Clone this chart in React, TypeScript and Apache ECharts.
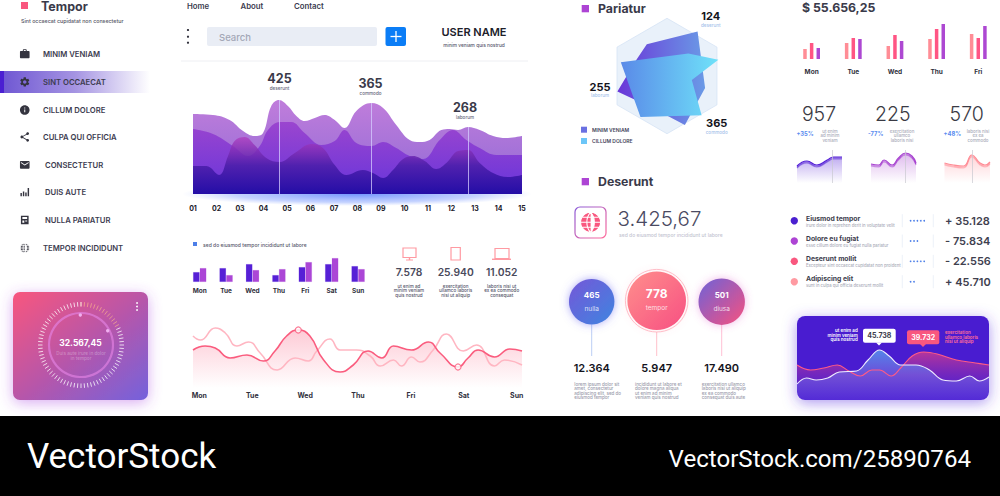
import React, { useEffect, useRef } from "react";
import * as echarts from "echarts";

const FONT = "Inter, 'Open Sans', sans-serif";
const DARK = "#3a3a4a";
const GREY = "#a9abb8";

// ---------- data ----------
const dayTicks = ["01","02","03","04","05","06","07","08","09","10","11","12","13","14","15"];
const areaTop = [[1,80],[1.85,79],[2.56,74],[3.13,63],[3.62,58],[3.98,61],[4.33,88],[4.66,94],[5.04,88],[5.4,78],[5.75,73],[6.18,76],[6.6,79],[7.03,74],[7.45,66],[7.95,83],[8.59,91],[9.09,86],[9.65,69],[10.22,54],[10.65,52],[11.07,54],[11.57,64],[11.92,65],[12.28,64],[12.7,67],[13.2,64],[13.77,58],[14.33,56],[15,58]];
const areaMid = [[1,65],[1.85,60],[2.7,48],[3.34,38],[3.84,48],[4.19,64],[4.69,72],[5.18,72],[5.75,61],[6.46,49],[7.03,53],[7.45,64],[7.95,51],[8.59,48],[9.09,52],[9.65,46],[10.22,38],[10.79,35],[11.5,54],[12.06,64],[12.63,54],[13.2,46],[13.91,39],[15,39]];
const areaLow = [[1,28],[1.57,28],[2.11,19],[2.49,38],[2.77,53],[3.2,57],[3.62,49],[4.12,36],[4.69,32],[5.33,41],[6.04,50],[6.53,46],[7.03,29],[7.52,19],[8.23,24],[8.66,21],[9.09,16],[9.51,24],[9.94,35],[10.36,38],[10.86,33],[11.35,25],[11.78,31],[12.28,43],[12.7,44],[13.2,31],[13.77,21],[14.4,17],[15,19]];
const areaPeaks = [[4.66,94],[8.59,91],[12.7,67]];

const weekDays = ["Mon","Tue","Wed","Thu","Fri","Sat","Sun"];
const barsDark = [10,14,18,7,15,18,16];
const barsLight = [14,7,12,13,20,24,13];

const waveMain = [[-0.12,38],[0.11,42],[0.3,40],[0.58,30],[0.9,33],[1.21,27],[1.43,37],[1.65,52],[1.87,58],[2.09,52],[2.35,28],[2.66,16],[2.91,23],[3.19,37],[3.45,30],[3.67,42],[4.01,38],[4.33,46],[4.55,35],[4.89,21],[5.08,30],[5.27,38],[5.58,31],[5.87,39],[6.1,37]];
const waveSoft = [[-0.12,52],[0.02,48],[0.3,60],[0.49,55],[0.71,42],[0.93,46],[1.15,35],[1.47,18],[1.81,30],[2.06,27],[2.22,37],[2.47,49],[2.66,38],[2.97,38],[3.23,32],[3.42,22],[3.67,28],[3.82,22],[4.01,31],[4.17,26],[4.42,38],[4.67,54],[4.99,37],[5.24,43],[5.58,22],[5.77,28],[6.1,23]];
const waveMarks = [[1.87,58],[4.89,21]];

const polyA = [[-0.35,0.55],[0.53,0.77],[0.66,-0.21],[0.31,-0.85],[-0.24,-0.56],[-0.86,-0.27],[-0.53,0.28]];
const polyB = [[-0.8,0.24],[0.37,0.39],[0.89,0.28],[0.43,-0.07],[0.6,-0.68],[-0.46,-0.71]];
const radarAxes = ["a","b","c","d","e","f"];

const fiveDays = ["Mon","Tue","Wed","Thu","Fri"];
const revA = [10,16,13,20,25];
const revB = [16,21,24,30,21];
const revC = [11,20,18,35,33];

const sparkBlue = [[0,17],[22,22],[44,18],[67,23],[81,26],[100,26]];
const sparkPurple = [[0,19],[17,18],[29,23],[47,18],[61,25],[77,30],[91,27],[100,20]];
const sparkPink = [[0,20],[20,18],[42,17],[60,28],[78,20],[89,18],[100,21]];

const cardWhite = [[0,16],[5,22],[10,20],[16,22],[22,28],[31,29],[37,40],[43,50],[48,44],[54,35],[62,35],[69,30],[76,20],[83,19],[90,24],[95,19],[100,23]];
const cardPink = [[0,35],[7,30],[14,32],[21,35],[27,29],[33,24],[39,30],[43,30],[49,24],[54,32],[60,44],[66,48],[73,46],[83,40],[93,37],[100,35]];

const navLabels = ["MINIM VENIAM","SINT OCCAECAT","CILLUM DOLORE","CULPA QUI OFFICIA","CONSECTETUR","DUIS AUTE","NULLA PARIATUR","TEMPOR INCIDIDUNT"];
const topLinks = ["Home","About","Contact"];
const deviceValues = ["7.578","25.940","11.052"];
const deviceNotes = [["ut enim ad","minim veniam","quis nostrud"],["exercitation","ullamco laboris","nisi ut aliquip"],["laboris nisi ut","ex ea commodo","consequat"]];
const peakLabels = [["425","deserunt"],["365","commodo"],["268","laborum"]];
const bubbleValues = [["465","nulla"],["778","tempor"],["501","diusa"]];
const bubbleTotals = ["12.364","5.947","17.490"];
const bubbleNotes = [
  ["lorem ipsum dolor sit","amet, consectetur","adipiscing elit, sed do","eiusmod tempor"],
  ["incididunt ut labore et","dolore magna aliqua","ut enim ad minim","veniam quis nostrud"],
  ["exercitation ullamco","laboris nisi ut aliquip","ex ea commodo","consequat duis aute"],
];
const kpiValues = ["957","225","570"];
const kpiDeltas = ["+35%","-77%","+48%"];
const kpiNotes = [["ut enim","ad minim","veniam"],["exercitation","ullamco","laboris nisi"],["laboris nisi","ex ea","commodo"]];
const listTitles = ["Eiusmod tempor","Dolore eu fugiat","Deserunt mollit","Adipiscing elit"];
const listNotes = ["irure dolor in reprehen derit in voluptate velit","esse cillum dolore eu fugiat nulla pariatur","Excepteur sint occaecat cupidatat non proident","sunt in culpa qui officia deserunt mollit"];
const listStars = [5,3,5,2];
const listValues = ["+ 35.128","- 75.834","- 22.556","+ 45.710"];

// ---------- icon shapes ----------
const ICONS: string[] = [
  "M20 6h-4V4c0-1.11-.89-2-2-2h-4c-1.11 0-2 .89-2 2v2H4c-1.11 0-1.99.89-1.99 2L2 19c0 1.11.89 2 2 2h16c1.11 0 2-.89 2-2V8c0-1.11-.89-2-2-2zm-6 0h-4V4h4v2z",
  "M19.14 12.94c.04-.3.06-.61.06-.94 0-.32-.02-.64-.07-.94l2.03-1.58c.18-.14.23-.41.12-.61l-1.92-3.32c-.12-.22-.37-.29-.59-.22l-2.39.96c-.5-.38-1.03-.7-1.62-.94l-.36-2.54c-.04-.24-.24-.41-.48-.41h-3.84c-.24 0-.43.17-.47.41l-.36 2.54c-.59.24-1.13.57-1.62.94l-2.39-.96c-.22-.08-.47 0-.59.22L2.74 8.87c-.12.21-.08.47.12.61l2.03 1.58c-.05.3-.09.63-.09.94s.02.64.07.94l-2.03 1.58c-.18.14-.23.41-.12.61l1.92 3.32c.12.22.37.29.59.22l2.39-.96c.5.38 1.03.7 1.62.94l.36 2.54c.05.24.24.41.48.41h3.84c.24 0 .44-.17.47-.41l.36-2.54c.59-.24 1.13-.56 1.62-.94l2.39.96c.22.08.47 0 .59-.22l1.92-3.32c.12-.22.07-.47-.12-.61l-2.01-1.58zM12 15.6c-1.98 0-3.6-1.62-3.6-3.6s1.62-3.6 3.6-3.6 3.6 1.62 3.6 3.6-1.62 3.6-3.6 3.6z",
  "M12 2C6.48 2 2 6.48 2 12s4.48 10 10 10 10-4.48 10-10S17.52 2 12 2zm1 15h-2v-6h2v6zm0-8h-2V7h2v2z",
  "M18 16.08c-.76 0-1.44.3-1.96.77L8.91 12.7c.05-.23.09-.46.09-.7s-.04-.47-.09-.7l7.05-4.11c.54.5 1.25.81 2.04.81 1.66 0 3-1.34 3-3s-1.34-3-3-3-3 1.34-3 3c0 .24.04.47.09.7L8.04 9.81C7.5 9.31 6.79 9 6 9c-1.66 0-3 1.34-3 3s1.34 3 3 3c.79 0 1.5-.31 2.04-.81l7.12 4.16c-.05.21-.08.43-.08.65 0 1.61 1.31 2.92 2.92 2.92s2.92-1.31 2.92-2.92-1.31-2.92-2.92-2.92z",
  "M20 4H4c-1.1 0-1.99.9-1.99 2L2 18c0 1.1.9 2 2 2h16c1.1 0 2-.9 2-2V6c0-1.1-.9-2-2-2zm0 4l-8 5-8-5V6l8 5 8-5v2z",
  "M3 14h3v7H3zM8 11h3v10H8zM13 13h3v8h-3zM18 4h3v17h-3z",
  "M4 3h16v18H4zM7 6v4h10V6zM7 13v5h4v-5zM13 13v2h4v-2z",
];
ICONS.forEach((d, i) => echarts.graphic.registerShape("navIcon" + i, echarts.graphic.extendPath(d as any, {})));
echarts.graphic.registerShape("globeIcon", echarts.graphic.extendPath("M12 2a10 10 0 1 0 0.01 0zM2 12h20M12 2c-5 5-5 15 0 20M12 2c5 5 5 15 0 20M4 7h16M4 17h16" as any, {}));
echarts.graphic.registerShape("cornerL", echarts.graphic.extendPath("M0 0A8 8 0 0 0 8 8L0 8Z" as any, {}));
echarts.graphic.registerShape("cornerR", echarts.graphic.extendPath("M8 0A8 8 0 0 1 0 8L8 8Z" as any, {}));

// ---------- helpers ----------
const LG = (x0: number, y0: number, x1: number, y1: number, stops: string[]) =>
  new echarts.graphic.LinearGradient(x0, y0, x1, y1, stops.map((color, i) => ({ offset: i / (stops.length - 1), color })));

function txt(x: number, y: number, text: string, fontSize: number, fill: string, fontWeight: any = 400, align = "left", extra: any = {}) {
  return { type: "text", x, y, z: 100, silent: true, style: { text, fontSize, fill, fontWeight, align, verticalAlign: "middle", fontFamily: FONT, ...extra } };
}
function box(x: number, y: number, width: number, height: number, fill: any, r = 0, z = 0, extra: any = {}) {
  return { type: "rect", z, silent: true, shape: { x, y, width, height, r }, style: { fill, ...extra } };
}
function dot(cx: number, cy: number, r: number, fill: any, z = 100, extra: any = {}) {
  return { type: "circle", z, silent: true, shape: { cx, cy, r }, style: { fill, ...extra } };
}
function seg(x1: number, y1: number, x2: number, y2: number, stroke: string, lineWidth = 1, z = 1) {
  return { type: "line", z, silent: true, shape: { x1, y1, x2, y2 }, style: { stroke, lineWidth } };
}

function buildGraphics() {
  const g: any[] = [];
  // footer
  g.push(box(0, 416, 1000, 80, "#000"));
  g.push(txt(27, 456, "VectorStock", 35, "#fff", 400, "left", { fontFamily: "Roboto, sans-serif" }));
  g.push(txt(971, 459, "VectorStock.com/25890764", 24.1, "#fff", 400, "right", { fontFamily: "Roboto, sans-serif" }));

  // sidebar
  g.push(box(21, 2, 7, 7, "#f9577f"));
  g.push(txt(41, 6.5, "Tempor", 12.5, DARK, 700));
  g.push(txt(21, 21, "Sint occaecat cupidatat non consectetur", 5.3, "#555566", 500));
  g.push(box(0, 71, 150, 22, LG(0, 0, 1, 0, ["#6d55d2", "#a594e2", "#ffffff"])));
  g.push(box(0, 71, 4, 22, "#4b1fd2"));
  const navY = [54, 82, 110, 137, 165, 192, 220, 248];
  const navX = [43, 43, 43, 43, 45, 45, 45, 43];
  navLabels.forEach((t, i) => {
    g.push(txt(navX[i], navY[i], t, 7.7, "#3c3c50", 600));
    if (i < ICONS.length) {
      g.push({ type: "navIcon" + i, x: 19, y: navY[i] - 5.8, scaleX: 0.48, scaleY: 0.48, z: 100, silent: true, style: { fill: "#34343f" } });
    } else {
      g.push({ type: "globeIcon", x: 19.3, y: navY[i] - 5.5, scaleX: 0.46, scaleY: 0.46, z: 100, silent: true, style: { fill: "#34343f", stroke: "#fff", lineWidth: 2 } });
    }
  });

  // gauge card
  g.push(box(13, 292, 135, 108, LG(0, 0, 1, 1, ["#f8567e", "#b956a8", "#7462dc"]), 7, 0, { shadowBlur: 14, shadowColor: "rgba(170,70,225,0.45)", shadowOffsetY: 3 }));
  g.push({ type: "circle", z: 1, silent: true, shape: { cx: 81, cy: 345, r: 32 }, style: { fill: "none", stroke: "rgba(228,130,228,0.65)", lineWidth: 2.2 } });
  g.push(dot(80.3, 315, 1.7, "#f0b0f0"));
  g.push(dot(107.7, 330.7, 1.7, "#f0b0f0"));
  [303, 306.5, 310].forEach((y) => g.push(dot(137, y, 0.9, "#fff")));
  g.push(txt(80.5, 343, "32.567,45", 8.5, "#fff", 700, "center"));
  g.push(txt(81, 353, "Duis aute irure in dolor", 4.6, "rgba(255,255,255,0.3)", 500, "center"));
  g.push(txt(81, 358, "in tempor", 4.6, "rgba(255,255,255,0.3)", 500, "center"));

  // header row
  [187, 240.5, 294].forEach((x, i) => g.push(txt(x, 6, topLinks[i], 7.8, "#3c3c50", 600)));
  [30, 36.7, 42.7].forEach((y) => g.push(dot(188, y, 1.1, "#2c2c38")));
  g.push(box(207, 27, 170, 19, "#e9edf5", 2));
  g.push(txt(219, 37, "Search", 9.5, "#a3a7b6", 500));
  g.push(box(385.5, 27, 20.5, 19, "#0b7df6", 2));
  g.push(seg(396, 31, 396, 42, "#fff", 1.3, 3));
  g.push(seg(390.5, 36.5, 401.5, 36.5, "#fff", 1.3, 3));
  g.push(txt(474, 32, "USER NAME", 11, "#20202a", 600, "center"));
  g.push(txt(474, 45, "minim veniam quis nostrud", 4.8, "#55556a", 500, "center"));
  g.push(seg(181, 61, 528, 61, "#eeeff3"));

  // main chart glow + callouts
  g.push({ type: "ellipse", z: 0, silent: true, shape: { cx: 357, cy: 194, rx: 175, ry: 12 }, style: { fill: new echarts.graphic.RadialGradient(0.5, 0.5, 0.5, [{ offset: 0, color: "rgba(70,115,255,0.75)" }, { offset: 0.7, color: "rgba(90,130,255,0.35)" }, { offset: 1, color: "rgba(120,150,255,0)" }]) } });
  [[279.5, 78.5], [370.5, 83.5], [465, 107.5]].forEach(([x, y], i) => {
    g.push(txt(x, y, peakLabels[i][0], 12.5, DARK, 700, "center"));
    g.push(txt(x, y + 9.5, peakLabels[i][1], 4.6, "#66667a", 500, "center"));
  });

  // small bars legend
  g.push(box(193, 242, 4, 4, "#4d7fe8"));
  g.push(txt(203, 244.5, "sed do eiusmod tempor incididunt ut labore", 5, "#55556a", 500));

  // devices
  const pink = "#ff9aa2";
  const outline = (x: number, y: number, w: number, h: number) => ({ type: "rect", z: 2, silent: true, shape: { x, y, width: w, height: h }, style: { fill: "none", stroke: pink, lineWidth: 1.2 } });
  g.push(outline(403, 248, 13, 9.5), seg(409.5, 257.5, 409.5, 260, pink, 1.4, 2), seg(406, 260, 413, 260, pink, 1, 2));
  g.push(outline(451, 247.5, 9.3, 12.5));
  g.push(outline(495, 248.5, 14, 10), seg(492, 259.3, 511, 259.3, pink, 1.4, 2));
  [409, 455.7, 501.7].forEach((x, i) => {
    g.push(txt(x, 271.7, deviceValues[i], 10.3, "#4a4a5c", 600, "center"));
    deviceNotes[i].forEach((s, k) => g.push(txt(x, 286 + k * 4.5, s, 4.6, "#55556a", 500, "center")));
  });

  // radar heading + labels
  g.push(box(581.7, 5, 7.3, 7.3, "#ad44d4"));
  g.push(txt(598, 8, "Pariatur", 12.3, DARK, 700));
  ([[710.7, 16, "124", "deserunt"], [600, 86.7, "255", "laborum"], [716.7, 123, "365", "commodo"]] as any[]).forEach(([x, y, a, b]) => {
    g.push(txt(x, y, a, 11, "#14141c", 700, "center"));
    g.push(txt(x, y + 9, b, 4.6, "#a5c2ea", 500, "center"));
  });
  g.push(box(581, 126.7, 6, 6, "#6a70e2"));
  g.push(txt(592, 129.5, "MINIM VENIAM", 5, "#44445a", 600));
  g.push(box(581, 138, 6, 6, "#6cc6f8"));
  g.push(txt(592, 141, "CILLUM DOLORE", 5, "#44445a", 600));

  // deserunt
  g.push(box(581.7, 178, 7.3, 7.3, "#ad44d4"));
  g.push(txt(598, 181.5, "Deserunt", 12.3, DARK, 700));
  g.push({ type: "rect", z: 2, silent: true, shape: { x: 575, y: 207, width: 31, height: 31, r: 5 }, style: { fill: "#fff", stroke: LG(0, 0, 1, 1, ["#8a5ad8", "#ff6a9a"]), lineWidth: 1.2 } });
  g.push({ type: "globeIcon", x: 578.6, y: 210.3, scaleX: 1, scaleY: 1, z: 3, silent: true, style: { fill: "#f9577f", stroke: "#fff", lineWidth: 1.1 } });
  g.push(txt(617.5, 218, "3.425,67", 20.5, "#4a4a62", 300));
  g.push(txt(619, 235, "sed do eiusmod tempor incididunt ut labore", 5, "#c3c4d0", 500));

  // bubbles
  const cx = [591.7, 656.7, 721.7];
  const cy = [301.7, 300.7, 301.7];
  const rr = [22.7, 29.3, 23.2];
  const fills = [LG(0, 0, 1, 1, ["#7558d8", "#3f84e0"]), LG(0, 0, 1, 1, ["#ff8f8c", "#f74f82"]), LG(0, 0, 1, 1, ["#6e62d8", "#f7517f"])];
  const glow = ["rgba(95,90,240,0.5)", "rgba(255,110,140,0.15)", "rgba(220,80,200,0.4)"];
  const stems = ["#a9c0f0", "#ffb0bc", "#ffb0c8"];
  cx.forEach((x, i) => {
    g.push(dot(x, cy[i], rr[i], fills[i], 2, { shadowBlur: 8, shadowColor: glow[i] }));
    g.push(seg(x, cy[i] + rr[i] + (i === 1 ? 2 : 0), x, 356, stems[i], 0.8));
    g.push(txt(x, i === 1 ? 293.3 : 295.3, bubbleValues[i][0], i === 1 ? 12 : 8, "#fff", 700, "center"));
    g.push(txt(x, i === 1 ? 308.3 : 308.7, bubbleValues[i][1], 6.5, "rgba(255,255,255,0.8)", 400, "center"));
    g.push(txt(x, 367.7, bubbleTotals[i], 11, "#14141c", 600, "center"));
  });
  g.push({ type: "circle", z: 1, silent: true, shape: { cx: 656.7, cy: 300.7, r: 31.3 }, style: { fill: "none", stroke: "#ffb0bc", lineWidth: 0.8 } });
  [574.3, 635, 701.7].forEach((x, i) => bubbleNotes[i].forEach((s, k) => g.push(txt(x, 384.3 + k * 4.35, s, 4.5, "#9a9bab", 500))));

  // top right
  g.push(txt(802, 7, "$ 55.656,25", 12.3, DARK, 700));
  const kpiX = [819, 892.7, 966.7];
  const deltaX = [805, 875.7, 952.3];
  const noteX = [830, 902, 978];
  kpiX.forEach((x, i) => {
    g.push(txt(x, 114.3, kpiValues[i], 19.5, "#3a3a44", 300, "center"));
    g.push(txt(deltaX[i], 133, kpiDeltas[i], 5.8, "#5a8cf0", 700, "center"));
    kpiNotes[i].forEach((s, k) => g.push(txt(noteX[i], 131.3 + k * 4.5, s, 4.4, GREY, 500, "center")));
  });

  // list
  const listColors = ["#4a1fd0", "#ad44d4", "#f9577f", "#ff9aa2"];
  listTitles.forEach((t, i) => {
    const y = 220.7 + i * 20.33;
    g.push(dot(794.3, y, 3.7, listColors[i]));
    g.push(txt(806, y - 2.7, t, 6.8, "#3c3c4c", 700));
    g.push(txt(806, y + 4.3, listNotes[i], 4.2, GREY, 500));
    g.push(seg(902.3, y - 6.5, 902.3, y + 6.5, "#e4ebf6", 0.7));
    g.push(seg(933.3, y - 6.5, 933.3, y + 6.5, "#e4ebf6", 0.7));
    for (let k = 0; k < listStars[i]; k++) g.push(dot(910.6 + k * 3.4, y, 0.85, "#4d7fe8"));
    g.push(txt(945, y, listValues[i], 11, "#40404e", 600));
  });

  // purple wave card
  g.push(box(797, 316, 192, 84, "#4a1fd0", 8, 0, { shadowBlur: 14, shadowColor: "rgba(90,50,225,0.5)", shadowOffsetY: 3 }));
  g.push({ type: "cornerL", x: 797, y: 392, z: 50, silent: true, style: { fill: "#e4dcfa" } });
  g.push({ type: "cornerR", x: 981, y: 392, z: 50, silent: true, style: { fill: "#e4dcfa" } });
  g.push(box(863, 328.7, 32.7, 14, "#fff", 2, 60));
  g.push({ type: "polygon", z: 60, silent: true, shape: { points: [[876, 342.5], [882, 342.5], [879, 345.5]] }, style: { fill: "#fff" } });
  g.push(txt(879.3, 335.7, "45.738", 7, "#3c3c4c", 700, "center"));
  ["ut enim ad", "minim veniam", "quis nostrud"].forEach((s, k) => g.push(txt(857.7, 330.7 + k * 4.6, s, 4.5, "#fff", 600, "right")));
  g.push(box(907, 330.3, 32.3, 14, "#f9577f", 2, 60));
  g.push({ type: "polygon", z: 60, silent: true, shape: { points: [[920, 344], [926, 344], [923, 347]] }, style: { fill: "#f9577f" } });
  g.push(txt(923.2, 337.3, "39.732", 7, "#fff", 700, "center"));
  ["exercitation", "ullamco laboris", "nisi ut aliquip"].forEach((s, k) => g.push(txt(945, 332.7 + k * 4.5, s, 4.5, "#ff6f96", 600)));
  return g;
}

const hiddenY = (gridIndex: number, max: number, min: any = 0) => ({ type: "value", gridIndex, min, max, show: false });
const valueX = (gridIndex: number, min: number, max: number) => ({ type: "value", gridIndex, min, max, show: false });
const labelStyle = (fontSize: number, color: string, margin: number) => ({ fontSize, color, fontWeight: 700, fontFamily: FONT, margin });
const noAxisLines = { axisLine: { show: false }, axisTick: { show: false }, splitLine: { show: false } };

function polygonSeries(points: number[][], fill: any) {
  return {
    type: "custom", coordinateSystem: "cartesian2d", xAxisIndex: 3, yAxisIndex: 3, clip: false, silent: true, data: points, encode: { x: 0, y: 1 },
    renderItem: (params: any, api: any) => params.dataIndex !== 0 ? null : ({ type: "polygon", shape: { points: points.map((p) => api.coord(p)) }, style: { fill } }),
  };
}
function spark(idx: number, data: number[][], color: string, markX: number) {
  return {
    type: "line", xAxisIndex: idx, yAxisIndex: idx, data, smooth: true, symbol: "none", silent: true,
    lineStyle: { color, width: 1.2, shadowColor: color, shadowBlur: 1.5, shadowOffsetY: 1.5 },
    areaStyle: { color: LG(0, 0, 0, 1, [color + "88", color + "00"]) },
    markLine: { silent: true, symbol: "none", label: { show: false }, lineStyle: { color: "#c8c8d0", width: 0.7, type: "solid" }, data: [[{ coord: [markX, 0] }, { coord: [markX, 33] }]] },
  };
}

function buildOption() {
  return {
    animation: false,
    backgroundColor: "#fff",
    textStyle: { fontFamily: FONT },
    graphic: { elements: buildGraphics() },
    radar: {
      center: [667, 76], radius: 57.7, startAngle: 90, splitNumber: 1, shape: "polygon",
      indicator: radarAxes.map(() => ({ name: "", max: 1 })),
      axisName: { show: false },
      axisLine: { lineStyle: { color: "rgba(255,255,255,0)" } },
      axisTick: { show: false },
      splitLine: { lineStyle: { color: "#d5e3f5", width: 0.8 } },
      splitArea: { areaStyle: { color: ["#e9f1fa"] } },
    },
    grid: [
      { left: 193, top: 94, width: 329, height: 100 },
      { left: 186.5, top: 252, width: 184.8, height: 30 },
      { left: 193, top: 323, width: 329, height: 65 },
      { left: 609.3, top: 18.3, width: 115.4, height: 115.4 },
      { left: 790.8, top: 19, width: 208.3, height: 40 },
      { left: 797, top: 150, width: 45, height: 33 },
      { left: 871, top: 150, width: 45, height: 33 },
      { left: 944.5, top: 150, width: 45.5, height: 33 },
      { left: 797, top: 340, width: 192, height: 60 },
    ],
    xAxis: [
      { type: "value", gridIndex: 0, min: 1, max: 15, interval: 1, ...noAxisLines, axisLabel: { ...labelStyle(7, "#20202a", 11), formatter: (v: number) => dayTicks[v - 1] ?? "", showMinLabel: true, showMaxLabel: true } },
      { type: "category", gridIndex: 1, data: weekDays, ...noAxisLines, axisLabel: { ...labelStyle(6.5, "#30303c", 5), interval: 0 } },
      { type: "value", gridIndex: 2, min: -0.12, max: 6.1, ...noAxisLines, axisLabel: { ...labelStyle(7, "#30303c", 4), customValues: [0, 1, 2, 3, 4, 5, 6], formatter: (v: number) => weekDays[v] ?? "" } },
      valueX(3, -1, 1),
      { type: "category", gridIndex: 4, data: fiveDays, ...noAxisLines, axisLabel: { ...labelStyle(6.5, "#30303c", 9), interval: 0 } },
      valueX(5, 0, 100), valueX(6, 0, 100), valueX(7, 0, 100), valueX(8, 0, 100),
    ],
    yAxis: [
      hiddenY(0, 100), hiddenY(1, 30), hiddenY(2, 65), hiddenY(3, 1, -1), hiddenY(4, 40),
      hiddenY(5, 33), hiddenY(6, 33), hiddenY(7, 33), hiddenY(8, 60),
    ],
    series: [
      { type: "line", name: "top", xAxisIndex: 0, yAxisIndex: 0, data: areaTop, smooth: 0.4, symbol: "none", silent: true, lineStyle: { width: 0 }, areaStyle: { opacity: 1, color: LG(0, 0, 0, 1, ["#c07ddb", "#8e6ad6"]) } },
      { type: "line", name: "mid", xAxisIndex: 0, yAxisIndex: 0, data: areaMid, smooth: 0.4, symbol: "none", silent: true, lineStyle: { width: 0 }, areaStyle: { opacity: 1, color: LG(0, 0, 0, 1, ["rgba(150,60,205,0.85)", "rgba(100,50,220,0.95)"]) } },
      {
        type: "line", name: "low", xAxisIndex: 0, yAxisIndex: 0, data: areaLow, smooth: 0.4, symbol: "none", silent: true, lineStyle: { width: 0 },
        areaStyle: { opacity: 1, color: LG(0, 0, 0, 1, ["rgba(175,60,190,0.75)", "rgba(75,30,170,0.9)", "#230da6"]) },
        markLine: { silent: true, symbol: "none", label: { show: false }, lineStyle: { color: "rgba(214,205,255,0.75)", width: 1, type: "solid" }, data: areaPeaks.map(([x, y]) => [{ coord: [x, 0] }, { coord: [x, y] }]) },
      },
      { type: "bar", xAxisIndex: 1, yAxisIndex: 1, data: barsDark, barWidth: 6.7, barGap: "0%", silent: true, itemStyle: { color: "#5620d6", borderColor: "rgba(86,32,214,0.18)", borderWidth: 0.6 } },
      { type: "bar", xAxisIndex: 1, yAxisIndex: 1, data: barsLight, barWidth: 6.7, silent: true, itemStyle: { color: "#ab46d6", borderColor: "rgba(171,70,214,0.25)", borderWidth: 0.6 } },
      { type: "line", xAxisIndex: 2, yAxisIndex: 2, data: waveSoft, smooth: 0.5, symbol: "none", silent: true, lineStyle: { color: "#ffb6c2", width: 1.6 } },
      { type: "line", xAxisIndex: 2, yAxisIndex: 2, data: waveMain, smooth: 0.5, symbol: "none", silent: true, lineStyle: { color: "#fa5c7e", width: 1.6 }, areaStyle: { color: LG(0, 0, 0, 1, ["rgba(250,90,125,0.45)", "rgba(250,90,125,0)"]) } },
      { type: "scatter", xAxisIndex: 2, yAxisIndex: 2, data: waveMarks, symbolSize: 6, silent: true, itemStyle: { color: "#fff", borderColor: "#fa5c7e", borderWidth: 1.2 }, z: 5 },
      polygonSeries(polyA, LG(0, 0, 1, 0, ["#6a36d8", "#6a9ae6"])),
      polygonSeries(polyB, LG(0, 0, 1, 0, ["#5a8ae8", "#6fe2f9"])),
      { type: "bar", xAxisIndex: 4, yAxisIndex: 4, data: revA, barWidth: 3.5, barGap: "90%", silent: true, itemStyle: { color: "#ff8d96" } },
      { type: "bar", xAxisIndex: 4, yAxisIndex: 4, data: revB, barWidth: 3.5, silent: true, itemStyle: { color: "#ff5584" } },
      { type: "bar", xAxisIndex: 4, yAxisIndex: 4, data: revC, barWidth: 3.5, silent: true, itemStyle: { color: "#ad48d2" } },
      spark(5, sparkBlue, "#5420d6", 78),
      spark(6, sparkPurple, "#a845d0", 77),
      spark(7, sparkPink, "#ff8d96", 60),
      { type: "line", xAxisIndex: 8, yAxisIndex: 8, data: cardPink, smooth: 0.4, symbol: "none", silent: true, lineStyle: { color: "#ff5a86", width: 1.1 }, areaStyle: { opacity: 1, color: LG(0, 0, 0, 1, ["rgba(255,70,120,0.6)", "rgba(90,40,210,0.15)"]) } },
      { type: "line", xAxisIndex: 8, yAxisIndex: 8, data: cardWhite, smooth: 0.4, symbol: "none", silent: true, lineStyle: { color: "#f0ecff", width: 1.1 }, areaStyle: { opacity: 1, color: LG(0, 0, 0, 1, ["rgba(85,140,235,0.95)", "rgba(115,90,220,0.8)", "rgba(85,45,215,0.85)"]) } },
      {
        type: "gauge", center: [81, 345], radius: 43, startAngle: 90, endAngle: -270, min: 0, max: 100, splitNumber: 1, silent: true, data: [{ value: 17 }],
        axisLine: { show: false, lineStyle: { width: 0, color: [[0.18, "#f6a88e"], [1, "#ffffff"]] } },
        axisTick: { show: true, splitNumber: 76, length: 4.5, distance: 0, lineStyle: { color: "auto", width: 0.9, opacity: 0.85 } },
        splitLine: { show: false }, axisLabel: { show: false }, pointer: { show: false }, progress: { show: false }, anchor: { show: false }, title: { show: false }, detail: { show: false },
      },
    ],
  };
}

export default function App() {
  const ref = useRef<HTMLDivElement>(null);
  useEffect(() => {
    document.body.style.margin = "0";
    const chart = echarts.init(ref.current!, undefined, { renderer: "svg" });
    chart.setOption(buildOption() as any);
    return () => chart.dispose();
  }, []);
  return <div ref={ref} style={{ width: 1000, height: 496 }} />;
}
